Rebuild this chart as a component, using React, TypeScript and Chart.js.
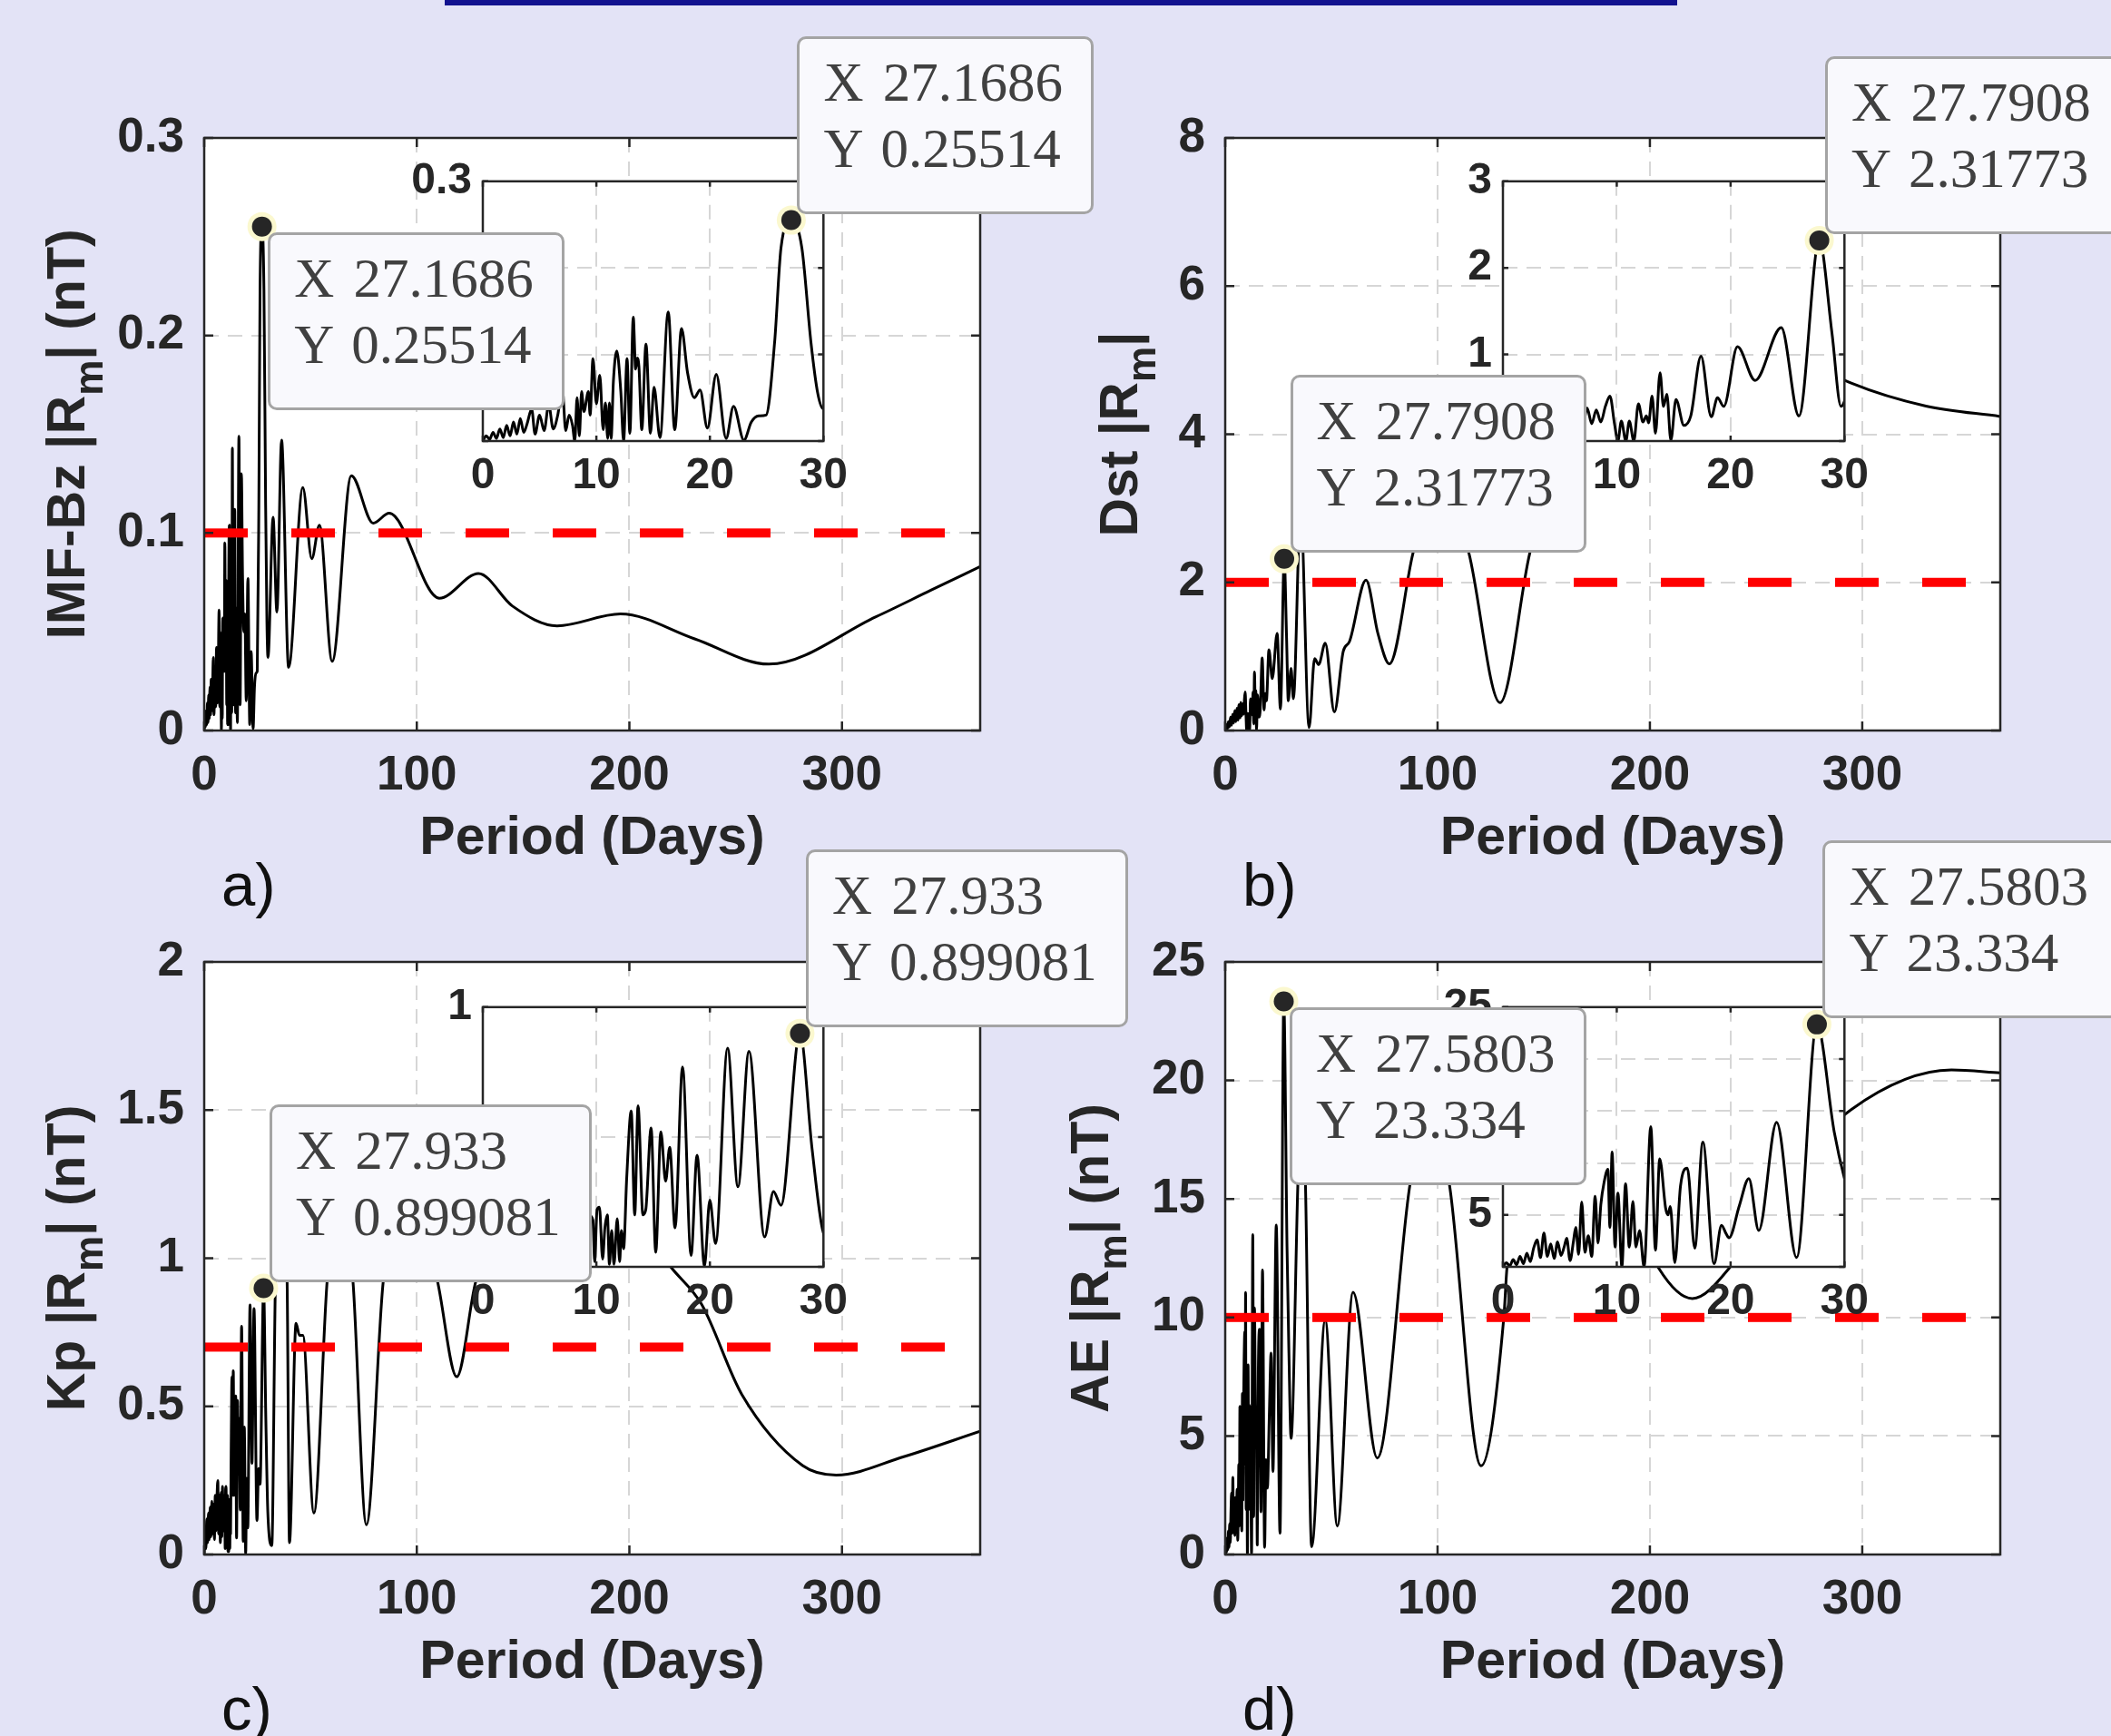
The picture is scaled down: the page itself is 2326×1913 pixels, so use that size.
import { useEffect, useRef } from 'react';
import { Chart, registerables } from 'chart.js';

Chart.register(...registerables);

// ---------------- data ----------------
const imfPeriod = [0, 0.3, 0.6, 0.9, 1.2, 1.5, 1.8, 2.1, 2.4, 2.7, 3.0, 3.3, 3.6, 3.9, 4.3, 4.6, 5.0, 5.4, 5.8, 6.2, 6.6, 7.0, 7.3, 7.6, 7.9, 8.1, 8.3, 8.5, 8.7, 8.9, 9.3, 9.45, 9.7, 10.0, 10.3, 10.6, 10.8, 11.0, 11.15, 11.3, 11.5, 11.8, 12.15, 12.4, 12.7, 12.95, 13.25, 13.46, 13.6, 13.75, 14.0, 14.37, 14.76, 15.08, 15.6, 16.33, 16.9, 17.5, 18.03, 18.63, 19.13, 19.78, 20.56, 21.43, 22.08, 23.0, 23.65, 24.3, 24.95, 25.7, 26.26, 27.1686, 28.1, 28.9, 29.5, 30.0, 32.4, 34.2, 36.4, 39.7, 46.4, 50.6, 54.2, 60.2, 69.2, 79.5, 87, 110.6, 129, 145, 166, 195.8, 230.7, 265.6, 316, 341.8, 365];
const imfValue = [0, 0.006, 0.002, 0.010, 0.003, 0.014, 0.004, 0.018, 0.006, 0.022, 0.008, 0.026, 0.010, 0.020, 0.037, 0.008, 0.030, 0.012, 0.042, 0.014, 0.030, 0.061, 0.012, 0.030, 0.018, 0.000, 0.050, 0.006, 0.057, 0.034, 0.057, 0.030, 0.095, 0.043, 0.076, 0.013, 0.044, 0.003, 0.044, 0.003, 0.069, 0.104, 0.058, 0.000, 0.095, 0.009, 0.143, 0.083, 0.096, 0.086, 0.013, 0.112, 0.009, 0.062, 0.004, 0.149, 0.013, 0.130, 0.079, 0.050, 0.059, 0.015, 0.077, 0.003, 0.040, 0.001, 0.022, 0.029, 0.030, 0.114, 0.223, 0.25514, 0.223, 0.114, 0.055, 0.037, 0.108, 0.060, 0.147, 0.032, 0.123, 0.087, 0.104, 0.035, 0.129, 0.105, 0.110, 0.067, 0.0795, 0.063, 0.053, 0.059, 0.0464, 0.0336, 0.0576, 0.071, 0.083];

const dstPeriod = [0, 0.5, 1.0, 1.5, 2.0, 2.5, 3.0, 3.5, 4.0, 4.5, 5.0, 5.5, 6.0, 6.5, 7.0, 7.4, 7.8, 8.2, 8.6, 9.0, 9.4, 9.8, 10.1, 10.4, 10.8, 11.1, 11.5, 11.9, 12.3, 12.6, 12.8, 13.1, 13.4, 13.8, 14.1, 14.4, 14.75, 15.2, 15.9, 16.5, 17.4, 18.3, 18.85, 19.4, 20.6, 22.15, 24.45, 26.0, 27.7908, 28.9, 29.7, 31.0, 32.1, 35.5, 39.5, 42.1, 44.0, 47.1, 51.4, 55.6, 58.5, 66.3, 72, 77.3, 88.4, 101, 114.8, 129.4, 143.4, 170, 220, 260, 294.8, 330, 365];
const dstValue = [0, 0.08, 0.02, 0.12, 0.05, 0.18, 0.07, 0.22, 0.10, 0.27, 0.12, 0.30, 0.14, 0.35, 0.17, 0.38, 0.20, 0.36, 0.22, 0.40, 0.52, 0.20, 0.00, 0.23, 0.00, 0.23, 0.00, 0.43, 0.22, 0.29, 0.21, 0.52, 0.09, 0.79, 0.40, 0.54, 0.01, 0.48, 0.18, 0.29, 0.98, 0.28, 0.50, 0.40, 1.09, 0.70, 1.31, 0.29, 2.31773, 1.25, 0.40, 0.84, 0.43, 3.0, 0.04, 0.97, 0.89, 1.18, 0.25, 1.07, 1.20, 2.03, 1.30, 0.90, 2.39, 3.6, 2.39, 0.376, 2.39, 4.9, 5.6, 5.2, 4.69, 4.38, 4.24];

const kpPeriod = [0, 0.4, 0.8, 1.2, 1.6, 2.0, 2.4, 2.8, 3.2, 3.6, 4.0, 4.4, 4.8, 5.2, 5.6, 6.0, 6.4, 6.8, 7.2, 7.6, 8.0, 8.3, 8.6, 9.0, 9.3, 9.7, 9.85, 10.06, 10.27, 10.55, 10.75, 10.97, 11.15, 11.35, 11.55, 11.84, 12.05, 12.2, 12.4, 12.67, 13.07, 13.38, 13.67, 14.1, 14.35, 14.82, 15.23, 15.68, 16.1, 16.46, 16.93, 17.59, 18.34, 18.87, 19.52, 19.99, 20.5, 21.56, 22.47, 23.44, 24.82, 25.6, 26.26, 27.933, 29.0, 29.92, 31.8, 33.5, 36.3, 39.0, 40.1, 43.2, 44.8, 46.4, 51.6, 57.8, 64, 70, 76.3, 84.2, 96, 109.8, 118.8, 127.7, 165, 219.5, 233.9, 252.9, 281.5, 297.3, 329, 365];
const kpValue = [0, 0.08, 0.02, 0.12, 0.04, 0.14, 0.05, 0.16, 0.06, 0.18, 0.07, 0.17, 0.05, 0.20, 0.08, 0.19, 0.25, 0.07, 0.20, 0.04, 0.21, 0.06, 0.23, 0.08, 0.20, 0.18, 0.02, 0.22, 0.23, 0.03, 0.15, 0.20, 0.01, 0.14, 0.01, 0.185, 0.02, 0.14, 0.07, 0.34, 0.60, 0.20, 0.62, 0.20, 0.22, 0.535, 0.056, 0.52, 0.33, 0.46, 0.15, 0.77, 0.044, 0.43, 0.003, 0.257, 0.09, 0.842, 0.308, 0.83, 0.115, 0.29, 0.237, 0.899081, 0.454, 0.144, 0.03, 0.92, 1.25, 0.92, 0.04, 0.78, 0.74, 0.74, 0.14, 0.92, 1.30, 0.92, 0.10, 0.92, 1.30, 0.92, 0.60, 0.92, 1.50, 0.97, 0.845, 0.54, 0.30, 0.268, 0.33, 0.416];

const aePeriod = [0, 0.3, 0.6, 0.9, 1.2, 1.5, 1.8, 2.1, 2.4, 2.7, 3.0, 3.3, 3.6, 3.9, 4.2, 4.5, 4.8, 5.1, 5.4, 5.6, 5.9, 6.2, 6.4, 6.65, 6.92, 7.2, 7.5, 7.8, 8.1, 8.35, 8.6, 8.88, 9.22, 9.4, 9.59, 9.85, 10.1, 10.45, 10.77, 11.1, 11.42, 11.68, 12.0, 12.4, 12.99, 13.4, 13.77, 14.3, 14.5, 14.7, 15.1, 15.6, 16.2, 16.85, 17.56, 18.55, 19.2, 19.6, 19.86, 20.77, 21.6, 22.47, 24.04, 25.8, 27.5803, 29.1, 30.0, 31.0, 34.2, 36.0, 37.8, 40.7, 47.1, 52.8, 60.2, 71.6, 87, 96, 105.6, 120.5, 131.2, 132.7, 150, 180, 204, 220, 237.5, 265, 294.8, 342, 365];
const aeValue = [0, 0.4, 0.1, 0.7, 0.2, 1.0, 0.3, 1.3, 0.5, 1.8, 2.6, 0.9, 3.25, 1.0, 2.2, 0.8, 2.4, 1.1, 2.0, 2.76, 0.6, 2.5, 3.8, 1.2, 6.25, 1.4, 3.0, 1.0, 6.8, 2.3, 6.0, 8.1, 9.4, 3.8, 11.05, 1.9, 7.1, 0.0, 8.0, 1.9, 6.3, 1.9, 3.5, 0.0, 13.5, 1.6, 10.4, 5.6, 5.0, 5.8, 0.4, 7.8, 9.5, 1.8, 12.0, 0.3, 4.0, 3.2, 2.8, 5.9, 8.5, 3.5, 13.9, 0.9, 23.334, 13.0, 8.5, 4.9, 15.6, 20.0, 15.6, 0.33, 9.9, 1.2, 11.06, 4.07, 15.6, 19.0, 15.6, 3.74, 10.0, 12.1, 18.5, 17.0, 12.1, 10.8, 12.1, 16.0, 18.77, 20.44, 20.32];

const thresholds = [0.1, 2, 0.7, 10];
const peakPeriods = [27.1686, 27.7908, 27.933, 27.5803];
const peakValues = [0.25514, 2.31773, 0.899081, 23.334];

const periodTicks = [0, 100, 200, 300];
const insetPeriodTicks = [0, 10, 20, 30];
const imfTicks = [0, 0.1, 0.2, 0.3];
const dstTicks = [0, 2, 4, 6, 8];
const kpTicks = [0, 0.5, 1, 1.5, 2];
const aeTicks = [0, 5, 10, 15, 20, 25];
const imfInsetTicks = [0, 0.1, 0.2, 0.3];
const dstInsetTicks = [0, 1, 2, 3];
const kpInsetTicks = [0, 0.5, 1];
const aeInsetTicks = [0, 5, 10, 15, 20, 25];

const periodMax = 365;
const insetPeriodMax = 30;

const xLabel = 'Period (Days)';
const yLabels = [
  ['IMF-Bz |R', 'm', '| (nT)'],
  ['Dst |R', 'm', '|'],
  ['Kp |R', 'm', '| (nT)'],
  ['AE |R', 'm', '| (nT)'],
];
const panelLetters = ['a)', 'b)', 'c)', 'd)'];

// ---------------- styles ----------------
const FONT_SANS = '"Liberation Sans", Arial, Helvetica, sans-serif';
const FONT_SERIF = '"Liberation Serif", "Times New Roman", serif';
const AXIS_COLOR = '#262626';
const GRID_COLOR = '#d6d6d6';
const BG = '#e3e3f6';

type Rect = { l: number; t: number; r: number; b: number };
type PanelCfg = {
  period: number[];
  value: number[];
  threshold: number;
  yTicks: number[];
  insetYTicks: number[];
  peakX: number;
  peakY: number;
  yLabel: string[];
  letter: string;
  plot: Rect;
  inset: Rect;
  yLabelGap: number;
  mainTipBelow: boolean;
};

const panels: PanelCfg[] = [
  {
    period: imfPeriod, value: imfValue, threshold: thresholds[0], yTicks: imfTicks, insetYTicks: imfInsetTicks,
    peakX: peakPeriods[0], peakY: peakValues[0], yLabel: yLabels[0], letter: panelLetters[0],
    plot: { l: 225, t: 152, r: 1080, b: 805 }, inset: { l: 532, t: 199, r: 914, b: 486 }, yLabelGap: 132, mainTipBelow: true,
  },
  {
    period: dstPeriod, value: dstValue, threshold: thresholds[1], yTicks: dstTicks, insetYTicks: dstInsetTicks,
    peakX: peakPeriods[1], peakY: peakValues[1], yLabel: yLabels[1], letter: panelLetters[1],
    plot: { l: 1350, t: 152, r: 2204, b: 805 }, inset: { l: 1656, t: 199, r: 2039, b: 486 }, yLabelGap: 97, mainTipBelow: false,
  },
  {
    period: kpPeriod, value: kpValue, threshold: thresholds[2], yTicks: kpTicks, insetYTicks: kpInsetTicks,
    peakX: peakPeriods[2], peakY: peakValues[2], yLabel: yLabels[2], letter: panelLetters[2],
    plot: { l: 225, t: 1060, r: 1080, b: 1713 }, inset: { l: 532, t: 1109, r: 914, b: 1396 }, yLabelGap: 132, mainTipBelow: false,
  },
  {
    period: aePeriod, value: aeValue, threshold: thresholds[3], yTicks: aeTicks, insetYTicks: aeInsetTicks,
    peakX: peakPeriods[3], peakY: peakValues[3], yLabel: yLabels[3], letter: panelLetters[3],
    plot: { l: 1350, t: 1060, r: 2204, b: 1713 }, inset: { l: 1656, t: 1109, r: 2039, b: 1396 }, yLabelGap: 129, mainTipBelow: true,
  },
];

const MAIN_PAD = { l: 225, t: 80, r: 60, b: 240 };
const INSET_PAD = { l: 100, t: 40, r: 30, b: 80 };

type FrameOpts = {
  tickLen: number;
  xTicks: number[];
  yTicks: number[];
  peakX: number;
  peakY: number;
  xTitle?: string;
  yTitle?: string[];
  yTitleGap?: number;
};

function makeFramePlugin(o: FrameOpts) {
  return {
    id: 'matlabFrame',
    beforeDraw(chart: any) {
      const { ctx, chartArea: a } = chart;
      ctx.save();
      ctx.fillStyle = '#ffffff';
      ctx.fillRect(a.left, a.top, a.right - a.left, a.bottom - a.top);
      ctx.restore();
    },
    afterDatasetsDraw(chart: any) {
      const { ctx, chartArea: a, scales } = chart;
      ctx.save();
      ctx.setLineDash([]);
      ctx.strokeStyle = AXIS_COLOR;
      ctx.lineWidth = 2.5;
      ctx.beginPath();
      for (const v of o.xTicks) {
        const x = scales.x.getPixelForValue(v);
        ctx.moveTo(x, a.bottom);
        ctx.lineTo(x, a.bottom - o.tickLen);
        ctx.moveTo(x, a.top);
        ctx.lineTo(x, a.top + o.tickLen);
      }
      for (const v of o.yTicks) {
        const y = scales.y.getPixelForValue(v);
        ctx.moveTo(a.left, y);
        ctx.lineTo(a.left + o.tickLen, y);
        ctx.moveTo(a.right, y);
        ctx.lineTo(a.right - o.tickLen, y);
      }
      ctx.stroke();
      ctx.strokeRect(a.left, a.top, a.right - a.left, a.bottom - a.top);
      const mx = scales.x.getPixelForValue(o.peakX);
      const my = scales.y.getPixelForValue(o.peakY);
      ctx.fillStyle = '#fbf8cf';
      ctx.beginPath();
      ctx.arc(mx, my, 16, 0, Math.PI * 2);
      ctx.fill();
      ctx.fillStyle = '#262626';
      ctx.beginPath();
      ctx.arc(mx, my, 11, 0, Math.PI * 2);
      ctx.fill();
      ctx.restore();
    },
    afterDraw(chart: any) {
      const { ctx, chartArea: a } = chart;
      ctx.save();
      ctx.fillStyle = AXIS_COLOR;
      if (o.xTitle) {
        ctx.font = `bold 59px ${FONT_SANS}`;
        ctx.textAlign = 'center';
        ctx.textBaseline = 'alphabetic';
        ctx.fillText(o.xTitle, (a.left + a.right) / 2, a.bottom + 136);
      }
      if (o.yTitle) {
        const [pre, sub, post] = o.yTitle;
        const mainFont = `bold 59px ${FONT_SANS}`;
        const subFont = `bold 44px ${FONT_SANS}`;
        ctx.font = mainFont;
        const w1 = ctx.measureText(pre).width;
        const w3 = ctx.measureText(post).width;
        ctx.font = subFont;
        const w2 = ctx.measureText(sub).width;
        const total = w1 + w2 + w3;
        ctx.translate(a.left - (o.yTitleGap || 130), (a.top + a.bottom) / 2);
        ctx.rotate(-Math.PI / 2);
        ctx.textAlign = 'left';
        ctx.textBaseline = 'alphabetic';
        let x = -total / 2;
        ctx.font = mainFont;
        ctx.fillText(pre, x, 0);
        x += w1;
        ctx.font = subFont;
        ctx.fillText(sub, x, 20);
        x += w2;
        ctx.font = mainFont;
        ctx.fillText(post, x, 0);
      }
      ctx.restore();
    },
  };
}

function axisOptions(ticks: number[], min: number, max: number, size: number, padding: number, fit: (s: any) => void, hideZero: boolean) {
  return {
    type: 'linear' as const,
    min,
    max,
    afterBuildTicks: (s: any) => {
      s.ticks = ticks.map((v) => ({ value: v }));
    },
    afterFit: fit,
    ticks: {
      autoSkip: false,
      maxRotation: 0,
      minRotation: 0,
      padding,
      color: AXIS_COLOR,
      font: { family: FONT_SANS, size, weight: 'bold' as const },
      callback: (v: any) => (hideZero && v === 0 ? '' : String(v)),
    },
    grid: { color: GRID_COLOR, lineWidth: 2, drawTicks: false },
    border: { display: false, dash: [16, 10] },
  };
}

const tipStyle: any = {
  position: 'absolute',
  boxSizing: 'border-box',
  border: '3px solid #a4a4a4',
  borderRadius: 10,
  background: '#f9f9fd',
  padding: '11px 31px 33px 26px',
  fontFamily: FONT_SERIF,
  fontSize: 61,
  lineHeight: '73px',
  wordSpacing: 6,
  color: '#404040',
  whiteSpace: 'pre',
  zIndex: 10,
  left: 0,
  top: 0,
};

function Panel({ cfg }: { cfg: PanelCfg }) {
  const mainRef = useRef<HTMLCanvasElement>(null);
  const insetRef = useRef<HTMLCanvasElement>(null);
  const tipMainRef = useRef<HTMLDivElement>(null);
  const tipInsetRef = useRef<HTMLDivElement>(null);

  const mainBox = {
    left: cfg.plot.l - MAIN_PAD.l,
    top: cfg.plot.t - MAIN_PAD.t,
    width: cfg.plot.r - cfg.plot.l + MAIN_PAD.l + MAIN_PAD.r,
    height: cfg.plot.b - cfg.plot.t + MAIN_PAD.t + MAIN_PAD.b,
  };
  const insetBox = {
    left: cfg.inset.l - INSET_PAD.l,
    top: cfg.inset.t - INSET_PAD.t,
    width: cfg.inset.r - cfg.inset.l + INSET_PAD.l + INSET_PAD.r,
    height: cfg.inset.b - cfg.inset.t + INSET_PAD.t + INSET_PAD.b,
  };

  useEffect(() => {
    const points = cfg.period.map((x, i) => ({ x, y: cfg.value[i] }));
    const thrLine = [
      { x: 0, y: cfg.threshold },
      { x: periodMax, y: cfg.threshold },
    ];
    const yMax = cfg.yTicks[cfg.yTicks.length - 1];
    const insetYMax = cfg.insetYTicks[cfg.insetYTicks.length - 1];

    const main = new Chart(mainRef.current as HTMLCanvasElement, {
      type: 'line',
      data: {
        datasets: [
          { data: thrLine, borderColor: '#ff0000', borderWidth: 10, borderDash: [48, 48], pointRadius: 0, fill: false } as any,
          { data: points, borderColor: '#000000', borderWidth: 3, pointRadius: 0, fill: false, cubicInterpolationMode: 'monotone', borderJoinStyle: 'round' } as any,
        ],
      },
      options: {
        responsive: false,
        animation: false,
        devicePixelRatio: 1,
        events: [],
        layout: { padding: { left: 0, top: MAIN_PAD.t, right: MAIN_PAD.r, bottom: 0 } },
        plugins: { legend: { display: false }, tooltip: { enabled: false } },
        scales: {
          x: axisOptions(periodTicks, 0, periodMax, 53, 19, (s: any) => { s.height = MAIN_PAD.b; }, false) as any,
          y: axisOptions(cfg.yTicks, 0, yMax, 53, 22, (s: any) => { s.width = MAIN_PAD.l; }, false) as any,
        },
      },
      plugins: [
        makeFramePlugin({
          tickLen: 10, xTicks: periodTicks, yTicks: cfg.yTicks, peakX: cfg.peakX, peakY: cfg.peakY,
          xTitle: xLabel, yTitle: cfg.yLabel, yTitleGap: cfg.yLabelGap,
        }),
      ],
    });

    const inset = new Chart(insetRef.current as HTMLCanvasElement, {
      type: 'line',
      data: {
        datasets: [
          { data: points, borderColor: '#000000', borderWidth: 3, pointRadius: 0, fill: false, cubicInterpolationMode: 'monotone', borderJoinStyle: 'round' } as any,
        ],
      },
      options: {
        responsive: false,
        animation: false,
        devicePixelRatio: 1,
        events: [],
        layout: { padding: { left: 0, top: INSET_PAD.t, right: INSET_PAD.r, bottom: 0 } },
        plugins: { legend: { display: false }, tooltip: { enabled: false } },
        scales: {
          x: axisOptions(insetPeriodTicks, 0, insetPeriodMax, 48, 10, (s: any) => { s.height = INSET_PAD.b; }, false) as any,
          y: axisOptions(cfg.insetYTicks, 0, insetYMax, 48, 12, (s: any) => { s.width = INSET_PAD.l; }, true) as any,
        },
      },
      plugins: [
        makeFramePlugin({ tickLen: 6, xTicks: insetPeriodTicks, yTicks: cfg.insetYTicks, peakX: cfg.peakX, peakY: cfg.peakY }),
      ],
    });

    // place the data tips next to their points
    const gap = 6.5;
    const tm = tipMainRef.current as HTMLDivElement;
    const mpx = main.scales.x.getPixelForValue(cfg.peakX) + mainBox.left;
    const mpy = main.scales.y.getPixelForValue(cfg.peakY) + mainBox.top;
    tm.style.left = `${mpx + gap}px`;
    tm.style.top = `${cfg.mainTipBelow ? mpy + gap : mpy - gap - tm.offsetHeight}px`;

    const ti = tipInsetRef.current as HTMLDivElement;
    const ipx = inset.scales.x.getPixelForValue(cfg.peakX) + insetBox.left;
    const ipy = inset.scales.y.getPixelForValue(cfg.peakY) + insetBox.top;
    ti.style.left = `${ipx + gap}px`;
    ti.style.top = `${ipy - gap - ti.offsetHeight}px`;

    return () => {
      main.destroy();
      inset.destroy();
    };
  }, []);

  const tipText = `X ${cfg.peakX}\nY ${cfg.peakY}`;

  return (
    <>
      <canvas
        ref={mainRef}
        width={mainBox.width}
        height={mainBox.height}
        style={{ position: 'absolute', left: mainBox.left, top: mainBox.top, width: mainBox.width, height: mainBox.height, zIndex: 1 }}
      />
      <canvas
        ref={insetRef}
        width={insetBox.width}
        height={insetBox.height}
        style={{ position: 'absolute', left: insetBox.left, top: insetBox.top, width: insetBox.width, height: insetBox.height, zIndex: 2 }}
      />
      <div ref={tipMainRef} style={tipStyle}>{tipText}</div>
      <div ref={tipInsetRef} style={{ ...tipStyle, zIndex: 11 }}>{tipText}</div>
      <div
        style={{
          position: 'absolute',
          left: cfg.plot.l + 19,
          top: cfg.plot.b + 193 - 56,
          fontFamily: FONT_SANS,
          fontSize: 67,
          lineHeight: '66px',
          color: '#111111',
          whiteSpace: 'pre',
          zIndex: 3,
        }}
      >
        {cfg.letter}
      </div>
    </>
  );
}

export default function App() {
  return (
    <div
      style={{
        position: 'absolute',
        left: 0,
        top: 0,
        width: 2326,
        height: 1913,
        overflow: 'hidden',
        background: BG,
      }}
    >
      <div style={{ position: 'absolute', left: 490, top: 0, width: 1358, height: 6, background: '#12128f' }} />
      {panels.map((p, i) => (
        <Panel key={i} cfg={p} />
      ))}
    </div>
  );
}
